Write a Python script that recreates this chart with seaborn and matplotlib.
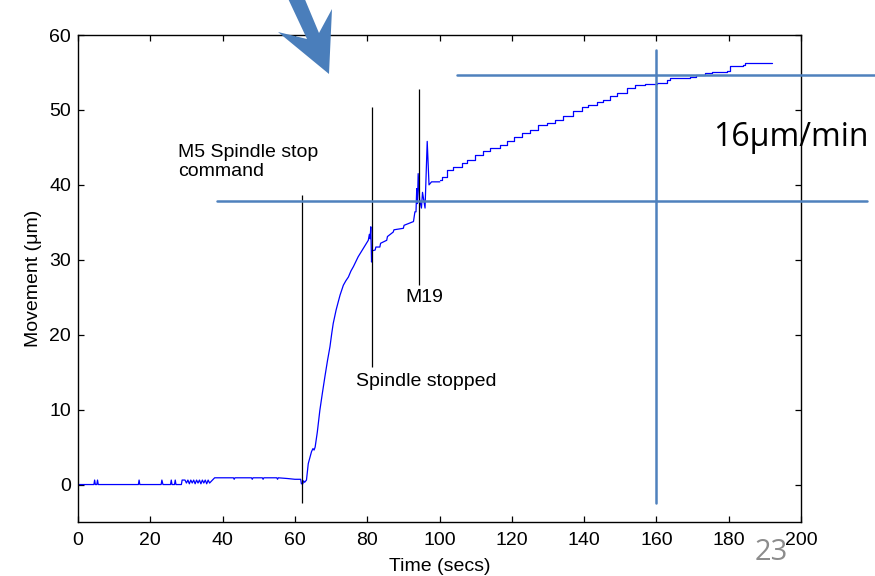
import numpy as np
import pandas as pd
import matplotlib
matplotlib.use('Agg')
import matplotlib.pyplot as plt
import seaborn as sns
from matplotlib.patches import Polygon

# ===== data =====
# baseline noise + spindle run-down (drawn as a plain line)
ramp_t = [0, 4.4, 4.6, 4.8, 5.2, 5.4, 5.6, 16.7, 16.9, 17.1, 23.0, 23.2, 23.5,
          25.6, 25.8, 26.0, 26.7, 26.9, 27.1, 28.6, 28.8, 29.6, 30.0, 30.4,
          30.8, 31.2, 31.6, 32.0, 32.4, 32.8, 33.2, 33.6, 34.0, 34.4, 34.8,
          35.2, 35.6, 36.0, 36.4, 37.2, 37.8, 43.0, 43.2, 43.4, 48.0, 48.2,
          48.4, 51.0, 51.2, 51.4, 55.0, 55.2, 55.4, 58.0, 60.0, 61.6, 61.8,
          62.2, 62.4, 62.7, 63.2, 63.7, 64.6, 65.0, 65.3, 65.6, 66.2, 66.9,
          67.6, 68.3, 69.0, 69.7, 70.2, 70.6, 71.4, 72.0, 72.5, 73.4, 74.1,
          74.8, 75.5, 76.2, 77.5, 78.9, 80.3, 80.6, 80.8, 81.0, 81.2, 81.4,
          82.2, 82.4, 83.5, 83.7, 85.4, 85.6, 87.2, 87.4, 90.0, 90.2, 92.8,
          93.2, 93.5, 93.7, 93.9, 94.1, 94.5, 95.0, 95.3, 96.0, 96.6, 97.1,
          97.8, 100.1]
ramp_y = [0, 0, 0.6, 0, 0, 0.6, 0, 0, 0.6, 0, 0, 0.6, 0,
          0, 0.6, 0, 0, 0.6, 0, 0, 0.6, 0.6, 0.2,
          0.6, 0.1, 0.6, 0.2, 0.6, 0.1, 0.6, 0.2, 0.6, 0.1, 0.6, 0.2,
          0.6, 0.1, 0.6, 0.2, 0.6, 0.9, 0.9, 0.7, 0.9, 0.9, 0.7,
          0.9, 0.9, 0.7, 0.9, 0.9, 0.7, 0.9, 0.8, 0.7, 0.7, 0.1,
          0.1, 0.5, 0.3, 0.6, 2.8, 4.4, 4.8, 4.6, 5.0, 7.0, 9.9,
          12.2, 14.4, 16.5, 18.4, 20.2, 21.5, 23.3, 24.4, 25.3, 26.6, 27.2,
          27.7, 28.5, 29.1, 30.4, 31.5, 32.6, 33.4, 32.8, 34.4, 29.7, 31.2,
          31.3, 31.7, 31.7, 32.2, 32.6, 33.1, 33.7, 34.0, 34.2, 34.6, 35.1,
          36.4, 36.4, 39.5, 37.5, 41.5, 38.0, 36.9, 39.0, 36.9, 45.8, 40.0,
          40.4, 40.4]

# slow thermal creep after M19 (stepped)
creep_t = [100.1, 100.6, 102.0, 103.8, 106.1, 107.5, 109.8, 112.1, 114.0,
           116.7, 118.6, 120.6, 122.7, 125.0, 127.3, 129.7, 131.9, 134.2,
           137.0, 139.3, 141.2, 143.5, 145.3, 147.2, 149.0, 151.8, 154.1,
           156.8, 160.1, 162.8, 163.8, 169.3, 171.0, 173.4, 175.3, 179.4,
           180.4, 184.0, 184.5, 191.9]
creep_y = [40.6, 41.1, 42.0, 42.4, 42.9, 43.3, 44.0, 44.5, 44.9,
           45.3, 45.9, 46.4, 46.9, 47.3, 48.0, 48.3, 48.7, 49.2,
           49.8, 50.4, 50.7, 51.0, 51.3, 51.8, 52.2, 52.9, 53.3,
           53.5, 53.6, 54.0, 54.2, 54.4, 54.6, 54.9, 55.0, 55.2,
           55.8, 56.0, 56.2, 56.2]

# event marker lines (x, bottom, top)
event_x = [62.0, 81.2, 94.2]
event_lo = [-2.5, 15.7, 26.6]
event_hi = [38.6, 50.4, 52.8]

# slide guide lines
guide_h_y = [54.66, 37.84]
guide_h_x0 = [104.8, 38.4]
guide_h_x1 = [220.5, 218.3]
guide_v_x = 159.8
guide_v_y = [-2.5, 58.0]

x_ticks = [0, 20, 40, 60, 80, 100, 120, 140, 160, 180, 200]
y_ticks = [0, 10, 20, 30, 40, 50, 60]

ramp_df = pd.DataFrame({'t': ramp_t, 'y': ramp_y})
creep_df = pd.DataFrame({'t': creep_t, 'y': creep_y})

# ===== style =====
sns.set_style('ticks')
plt.rcParams['font.family'] = ['Liberation Sans', 'DejaVu Sans']
plt.rcParams['axes.linewidth'] = 1.0
plt.rcParams['xtick.direction'] = 'in'
plt.rcParams['ytick.direction'] = 'in'
plt.rcParams['text.color'] = 'black'
plt.rcParams['axes.labelcolor'] = 'black'
plt.rcParams['xtick.color'] = 'black'
plt.rcParams['ytick.color'] = 'black'

fig = plt.figure(figsize=(8.75, 5.76), dpi=100)
ax = fig.add_axes([78 / 875, 1 - 522 / 576, 723 / 875, 487 / 576])

line_blue = '#0000FF'
guide_blue = '#4F81BD'

sns.lineplot(data=ramp_df, x='t', y='y', ax=ax, color=line_blue, lw=0.9,
             sort=False, estimator=None)
sns.lineplot(data=creep_df, x='t', y='y', ax=ax, color=line_blue, lw=0.9,
             sort=False, estimator=None, drawstyle='steps-post')

ax.vlines(event_x, event_lo, event_hi, colors='black', lw=0.9)

for y, x0, x1 in zip(guide_h_y, guide_h_x0, guide_h_x1):
    ax.plot([x0, x1], [y, y], color=guide_blue, lw=1.8, clip_on=False, zorder=5)
ax.plot([guide_v_x, guide_v_x], guide_v_y, color=guide_blue, lw=1.8,
        clip_on=False, zorder=5)

ax.set_xlim(0, 200)
ax.set_ylim(-5, 60)
ax.set_xticks(x_ticks)
ax.set_yticks(y_ticks)
ax.tick_params(axis='both', labelsize=14, length=4, width=0.9,
               top=True, right=True, color='black', labelcolor='black')
ax.tick_params(axis='x', pad=7)
ax.tick_params(axis='y', pad=5)
for s in ax.spines.values():
    s.set_visible(True)
    s.set_color('black')

ax.set_xlabel('Time (secs)', fontsize=14, labelpad=7)
ax.set_ylabel('Movement (\u03bcm)', fontsize=14, labelpad=5)

ax.text(27.7, 45.4, 'M5 Spindle stop\ncommand', fontsize=14, ha='left', va='top',
        linespacing=1.1)
ax.text(76.9, 13.8, 'Spindle stopped', fontsize=14, ha='left', va='center')
ax.text(90.5, 25.0, 'M19', fontsize=14, ha='left', va='center')

# slide overlays
fig.text(713 / 875, 1 - 137 / 576, '16\u03bcm/min', fontsize=23,
         family=['Open Sans', 'DejaVu Sans'], ha='left', va='center')
fig.text(755 / 875, 1 - 552 / 576, '23', fontsize=21, color='#8C8C8C',
         family=['Open Sans', 'DejaVu Sans'], ha='left', va='center')

arrow_px = [(284, -10), (307, 39), (278, 32), (329, 74), (332, 9), (319, 33), (301, -10)]
arrow_pts = [(x / 875, 1 - y / 576) for x, y in arrow_px]
fig.add_artist(Polygon(arrow_pts, closed=True, transform=fig.transFigure,
                       facecolor='#4A7EBB', edgecolor='none', zorder=10))

fig.savefig('out.png', dpi=100)
